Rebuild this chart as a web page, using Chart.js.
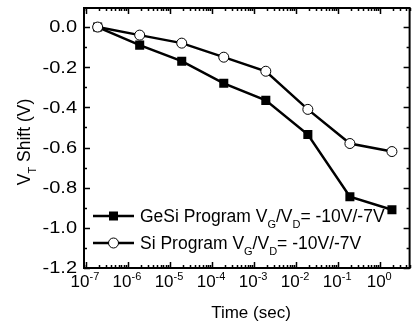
<!DOCTYPE html>
<html>
<head>
<meta charset="utf-8">
<script src="https://cdn.jsdelivr.net/npm/chart.js@4.4.0/dist/chart.umd.min.js"></script>
<style>
  html, body { margin: 0; padding: 0; background: #fff; overflow: hidden; }
  #wrap { width: 416px; height: 326px; }
</style>
</head>
<body>
<div id="wrap"><canvas id="c" width="416" height="326"></canvas></div>
<script>
// Time (sec) vs threshold voltage shift (V)
const timeSec = [1.9e-7, 1.9e-6, 1.9e-5, 1.9e-4, 1.9e-3, 1.9e-2, 1.9e-1, 1.9];
const geSiShift = [0, -0.09, -0.17, -0.28, -0.365, -0.535, -0.845, -0.91];
const siShift = [0, -0.04, -0.08, -0.15, -0.22, -0.41, -0.58, -0.62];
const xExponents = [-7, -6, -5, -4, -3, -2, -1, 0];
const yTickValues = [0.0, -0.2, -0.4, -0.6, -0.8, -1.0, -1.2];

const FONT = "Liberation Sans, Arial, sans-serif";

function pts(xs, ys) {
  return xs.map((x, i) => ({ x: x, y: ys[i] }));
}

// rich text pieces: [text, mode] with mode "n" normal, "sub", "sup"
function drawRich(ctx, parts, x, y, size, align) {
  const small = Math.round(size * 0.62);
  const widthOf = p => {
    ctx.font = (p[1] === "n" ? size : small) + "px " + FONT;
    return ctx.measureText(p[0]).width;
  };
  const total = parts.reduce((s, p) => s + widthOf(p), 0);
  let cx = align === "center" ? x - total / 2 : (align === "right" ? x - total : x);
  ctx.textAlign = "left";
  ctx.textBaseline = "alphabetic";
  parts.forEach(p => {
    const w = widthOf(p);
    let dy = 0;
    if (p[1] === "sub") dy = size * 0.32;
    if (p[1] === "sup") dy = -size * 0.42;
    ctx.fillText(p[0], cx, y + dy);
    cx += w;
  });
}

const framePlugin = {
  id: "frame",
  afterDraw(chart) {
    const { ctx, chartArea: a, scales } = chart;
    const xs = scales.x, ys = scales.y;
    ctx.save();
    ctx.strokeStyle = "#000";
    ctx.fillStyle = "#000";

    // frame
    ctx.lineWidth = 2;
    ctx.strokeRect(a.left, a.top, a.right - a.left, a.bottom - a.top);

    // x ticks (inside, top and bottom)
    ctx.lineWidth = 1.5;
    ctx.beginPath();
    for (let e = -8; e <= 1; e++) {
      for (let m = 1; m <= 9; m++) {
        const v = m * Math.pow(10, e);
        if (v < xs.min || v > xs.max) continue;
        const px = Math.round(xs.getPixelForValue(v)) + 0.5;
        const len = m === 1 ? 6 : 3;
        ctx.moveTo(px, a.bottom); ctx.lineTo(px, a.bottom - len);
        ctx.moveTo(px, a.top); ctx.lineTo(px, a.top + len);
      }
    }
    // y ticks (inside, left and right)
    for (let k = -12; k <= 0; k++) {
      const v = k / 10;
      const py = Math.round(ys.getPixelForValue(v)) + 0.5;
      const len = k % 2 === 0 ? 6 : 3;
      ctx.moveTo(a.left, py); ctx.lineTo(a.left + len, py);
      ctx.moveTo(a.right, py); ctx.lineTo(a.right - len, py);
    }
    ctx.stroke();

    // x tick labels 10^n
    xExponents.forEach(e => {
      const px = xs.getPixelForValue(Math.pow(10, e));
      drawRich(ctx, [["10", "n"], [String(e), "sup"]], px - 1, a.bottom + 19, 17, "center");
    });

    // y tick labels (slightly wide lettering, as in the source figure)
    ctx.font = "16px " + FONT;
    ctx.textAlign = "right";
    ctx.textBaseline = "middle";
    yTickValues.forEach(v => {
      ctx.save();
      ctx.translate(a.left - 7, ys.getPixelForValue(v) + 1);
      ctx.scale(1.25, 1);
      ctx.fillText(v.toFixed(1), 0, 0);
      ctx.restore();
    });

    // x title
    ctx.font = "17px " + FONT;
    ctx.textAlign = "center";
    ctx.textBaseline = "alphabetic";
    ctx.fillText("Time (sec)", 251, 318);

    // y title
    ctx.save();
    ctx.translate(30, 142);
    ctx.rotate(-Math.PI / 2);
    drawRich(ctx, [["V", "n"], ["T", "sub"], [" Shift (V)", "n"]], 0, 0, 17.5, "center");
    ctx.restore();

    // legend
    const rows = [
      { y: 216, style: "rect", label: "GeSi Program V" },
      { y: 243, style: "circle", label: "Si Program V" }
    ];
    rows.forEach(r => {
      ctx.lineWidth = 2.5;
      ctx.beginPath();
      ctx.moveTo(93, r.y); ctx.lineTo(134, r.y);
      ctx.stroke();
      if (r.style === "rect") {
        ctx.fillStyle = "#000";
        ctx.fillRect(109, r.y - 4.5, 9, 9);
      } else {
        ctx.fillStyle = "#fff";
        ctx.lineWidth = 1;
        ctx.beginPath();
        ctx.arc(113.5, r.y, 5, 0, Math.PI * 2);
        ctx.fill(); ctx.stroke();
      }
      ctx.fillStyle = "#000";
      drawRich(ctx, [[r.label, "n"], ["G", "sub"], ["/V", "n"], ["D", "sub"], ["= -10V/-7V", "n"]], 140, r.y + 6, 17.5, "left");
    });
    ctx.restore();
  }
};

new Chart(document.getElementById("c"), {
  type: "line",
  data: {
    datasets: [{
      label: "GeSi Program VG/VD= -10V/-7V",
      data: pts(timeSec, geSiShift),
      borderColor: "#000",
      backgroundColor: "#000",
      borderWidth: 2.5,
      pointStyle: "rect",
      pointRadius: 6.4,
      pointBorderWidth: 0,
      pointBackgroundColor: "#000",
      order: 2,
      tension: 0
    }, {
      label: "Si Program VG/VD= -10V/-7V",
      data: pts(timeSec, siShift),
      borderColor: "#000",
      backgroundColor: "#fff",
      borderWidth: 2.5,
      pointStyle: "circle",
      pointRadius: 5,
      pointBorderWidth: 1,
      pointBackgroundColor: "#fff",
      pointBorderColor: "#000",
      order: 1,
      tension: 0
    }]
  },
  options: {
    responsive: false,
    animation: false,
    layout: { padding: { left: 84, top: 8, right: 3, bottom: 58 } },
    plugins: { legend: { display: false }, tooltip: { enabled: false } },
    scales: {
      x: { type: "logarithmic", min: 9e-8, max: 5, display: false },
      y: { type: "linear", min: -1.2, max: 0.095, display: false }
    }
  },
  plugins: [framePlugin]
});
</script>
</body>
</html>
